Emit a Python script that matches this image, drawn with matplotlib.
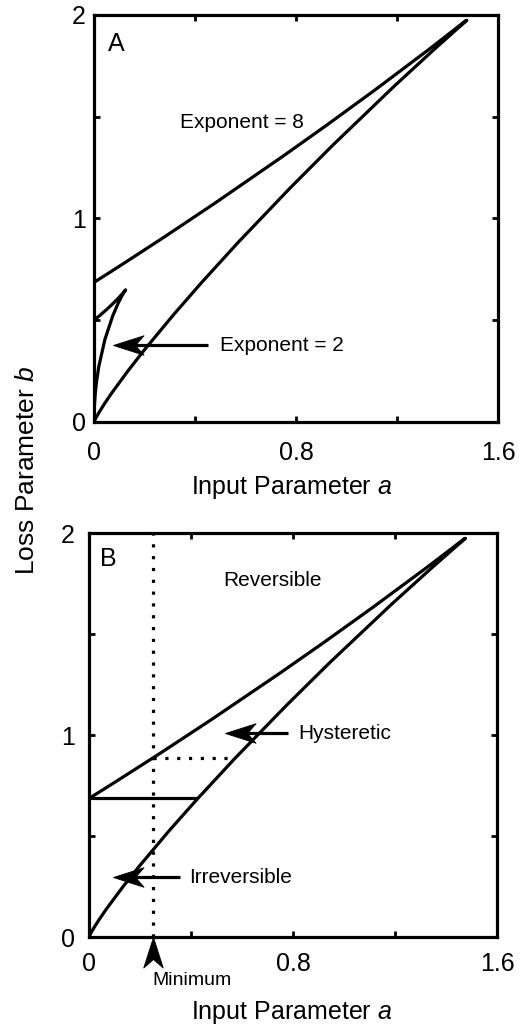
import matplotlib
matplotlib.use('Agg')
import matplotlib.pyplot as plt
from matplotlib.path import Path
from matplotlib.markers import MarkerStyle
from matplotlib.transforms import Affine2D

plt.rcParams['font.family'] = 'Liberation Sans'
plt.rcParams['mathtext.fontset'] = 'custom'
plt.rcParams['mathtext.it'] = 'Liberation Sans:italic'
plt.rcParams['mathtext.rm'] = 'Liberation Sans'

# Fold curves (input a vs loss b), traced from the origin up to the cusp
# and back down the other fold to the b axis.
exp8_a = [0.0, 0.0007, 0.0070, 0.0209, 0.0415, 0.0685, 0.1342, 0.1971, 0.3152,
          0.4237, 0.5702, 0.7769, 0.9444, 1.1893, 1.3469, 1.4444, 1.4766,
          1.4717, 1.4198, 1.3200, 1.1111, 0.9184, 0.7500, 0.4800, 0.2778,
          0.1224, 0.0578, 0.0]
exp8_b = [0.0, 0.0025, 0.0189, 0.0493, 0.0899, 0.1395, 0.2508, 0.3507, 0.5276,
          0.6820, 0.8817, 1.1502, 1.3588, 1.6507, 1.8307, 1.9387, 1.9735,
          1.9718, 1.9210, 1.8250, 1.6302, 1.4559, 1.3075, 1.0764, 0.9086,
          0.7831, 0.7316, 0.6861]

exp2_a = [0.0, 0.0005, 0.0020, 0.0049, 0.0097, 0.0188, 0.0431, 0.0744, 0.0964,
          0.1111, 0.1200, 0.1250, 0.1224, 0.1111, 0.0938, 0.0727, 0.0494,
          0.0249, 0.0]
exp2_b = [0.0, 0.0446, 0.0890, 0.1400, 0.1960, 0.2718, 0.4056, 0.5227, 0.5857,
          0.6211, 0.6400, 0.6495, 0.6454, 0.6285, 0.6052, 0.5790, 0.5521,
          0.5256, 0.5000]

# Panel B guides
threshold_a = [0.0, 0.42]
threshold_b = [0.686, 0.686]
minimum_a = 0.25
minimum_line_b = [0.0, 2.0]
level_a = [0.25, 0.572]
level_b = [0.886, 0.886]

x_ticks = [0, 0.4, 0.8, 1.2, 1.6]
x_labels = ['0', '', '0.8', '', '1.6']
y_ticks = [0, 0.5, 1, 1.5, 2]
y_labels = ['0', '', '1', '', '2']

head = Path([(0, 0), (1, 0.32), (0.72, 0), (1, -0.32), (0, 0)],
            [Path.MOVETO, Path.LINETO, Path.LINETO, Path.LINETO, Path.CLOSEPOLY])


def arrow(ax, tip, tail=None, angle=0):
    # notched arrow head pointing at tip, optional straight shaft
    if tail is not None:
        ax.plot([tip[0] + 0.05, tail[0]], [tip[1], tail[1]], color='black', lw=2.3,
                solid_capstyle='butt')
    ax.plot(tip[0], tip[1], marker=MarkerStyle(head, transform=Affine2D().rotate_deg(angle)),
            ms=44, color='black', mew=0.6, clip_on=False, zorder=5)


def style_axes(ax, xpad, ypad):
    ax.set_xlim(0, 1.6)
    ax.set_ylim(0, 2)
    ax.set_xticks(x_ticks)
    ax.set_xticklabels(x_labels)
    ax.set_yticks(y_ticks)
    ax.set_yticklabels(y_labels)
    ax.tick_params(direction='in', length=4.5, width=2, top=True, right=True,
                   labelsize=18)
    ax.tick_params(axis='x', pad=xpad)
    ax.tick_params(axis='y', pad=ypad)
    for s in ax.spines.values():
        s.set_linewidth(2.3)


fig = plt.figure(figsize=(5.27, 10.27), dpi=100)

# Panel A
ax1 = fig.add_axes([0.1784, 0.5891, 0.7666, 0.3963])
style_axes(ax1, 14, 6)
ax1.plot(exp8_a, exp8_b, color='black', lw=2.3)
ax1.plot(exp2_a, exp2_b, color='black', lw=2.3)
ax1.text(0.087, 1.857, 'A', fontsize=18, ha='center', va='center')
ax1.text(0.34, 1.47, 'Exponent = 8', fontsize=15, ha='left', va='center')
arrow(ax1, (0.075, 0.378), (0.45, 0.378))
ax1.text(0.50, 0.378, 'Exponent = 2', fontsize=15, ha='left', va='center')
ax1.set_xlabel('Input Parameter $a$', fontsize=18)
ax1.xaxis.set_label_coords(0.49, -0.16)
ax1.xaxis.label.set_va('center')

# Panel B
ax2 = fig.add_axes([0.1689, 0.0876, 0.7742, 0.3934])
style_axes(ax2, 11, 10)
ax2.plot(exp8_a, exp8_b, color='black', lw=2.3)
ax2.plot(threshold_a, threshold_b, color='black', lw=2.3)
ax2.plot([minimum_a, minimum_a], minimum_line_b, color='black', lw=2.3,
         ls=(0, (1, 2.7)))
ax2.plot(level_a, level_b, color='black', lw=2.3, ls=(0, (1, 2.7)))
ax2.text(0.075, 1.87, 'B', fontsize=18, ha='center', va='center')
ax2.text(0.525, 1.767, 'Reversible', fontsize=15, ha='left', va='center')
arrow(ax2, (0.533, 1.01), (0.78, 1.01))
ax2.text(0.82, 1.01, 'Hysteretic', fontsize=15, ha='left', va='center')
arrow(ax2, (0.094, 0.297), (0.357, 0.297))
ax2.text(0.392, 0.297, 'Irreversible', fontsize=15, ha='left', va='center')
arrow(ax2, (minimum_a, 0.0), angle=-90)
ax2.text(0.247, -0.213, 'Minimum', fontsize=14, ha='left', va='center', clip_on=False)
ax2.set_xlabel('Input Parameter $a$', fontsize=18)
ax2.xaxis.set_label_coords(0.4975, -0.186)
ax2.xaxis.label.set_va('center')

fig.text(0.052, 0.5424, 'Loss Parameter $b$', fontsize=19, rotation=90,
         ha='center', va='center')

fig.savefig('out.png', dpi=100)
